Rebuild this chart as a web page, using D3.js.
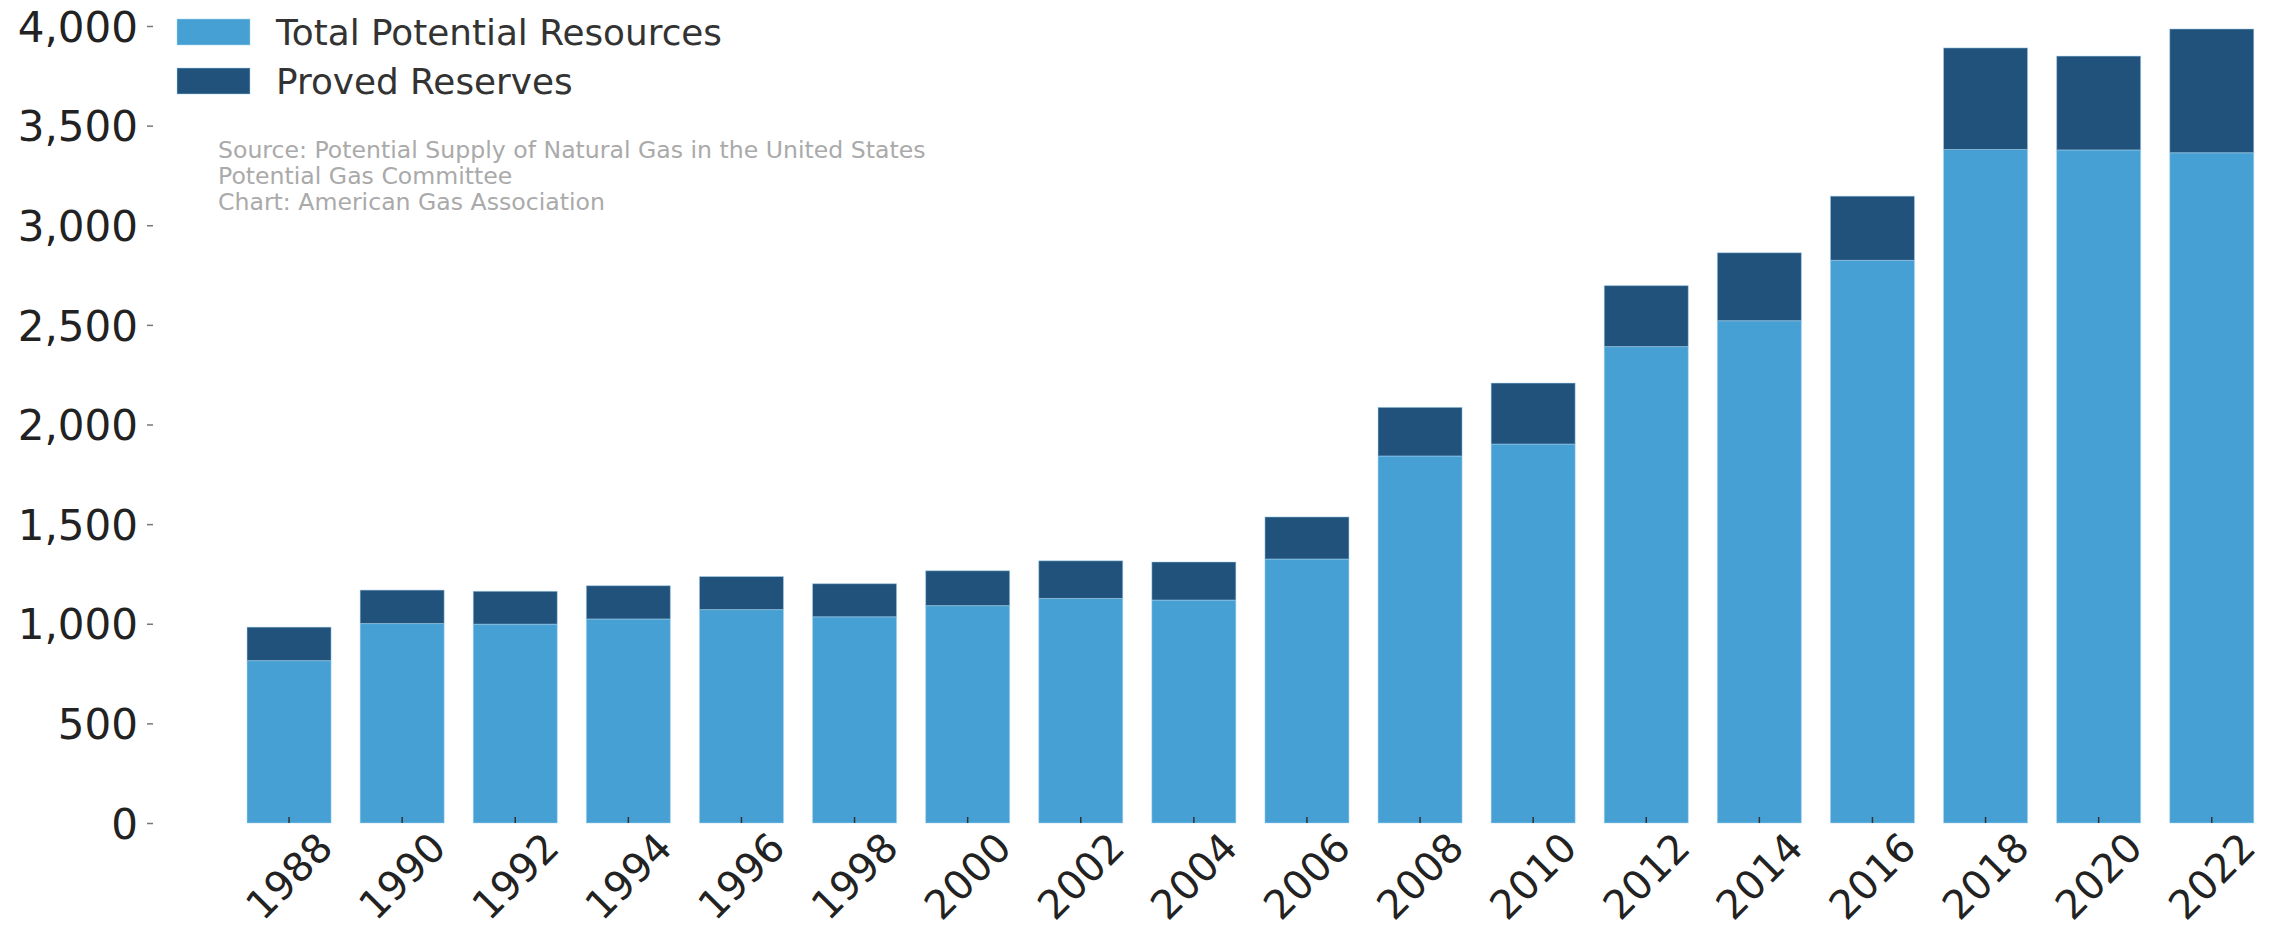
<!DOCTYPE html>
<html>
<head>
<meta charset="utf-8">
<script src="https://cdn.jsdelivr.net/npm/d3@7"></script>
<style>
  html, body { margin: 0; padding: 0; background: #fff; }
  svg { display: block; font-family: "DejaVu Sans", sans-serif; }
</style>
</head>
<body>
<svg id="chart" width="2277" height="929"></svg>
<script>
// values in Tcf
var years = ["1988","1990","1992","1994","1996","1998","2000","2002","2004",
             "2006","2008","2010","2012","2014","2016","2018","2020","2022"];
var totalPotential = [815, 1001, 998, 1024, 1071, 1035, 1091, 1127, 1119,
                      1325, 1842, 1902, 2391, 2521, 2824, 3380, 3378, 3364];
var provedReserves = [168, 168, 165, 167, 166, 166, 175, 189, 191,
                      211, 244, 306, 306, 341, 322, 510, 471, 621];
var yTicks = [0, 500, 1000, 1500, 2000, 2500, 3000, 3500, 4000];
var seriesNames = ["Total Potential Resources", "Proved Reserves"];
var sourceLines = ["Source: Potential Supply of Natural Gas in the United States",
                   "Potential Gas Committee",
                   "Chart: American Gas Association"];

var colors = ["#47a0d4", "#20527c"];

var svg = d3.select("#chart");

var x = d3.scaleBand()
  .domain(years)
  .range([232.5, 232.5 + 113.1 * years.length])
  .paddingInner(0.257)
  .paddingOuter(0.1285);

var y = d3.scaleLinear()
  .domain([0, 4000])
  .range([823, 26]);

var rows = years.map(function(yr, i) {
  return { year: yr, total: totalPotential[i], proved: provedReserves[i] };
});

var stack = d3.stack().keys(["total", "proved"]);
var layers = stack(rows);

// bars
svg.append("g").selectAll("g")
  .data(layers)
  .join("g")
    .attr("fill", function(d, i) { return colors[i]; })
  .selectAll("rect")
  .data(function(d) { return d; })
  .join("rect")
    .attr("x", function(d) { return x(d.data.year); })
    .attr("y", function(d) { return y(d[1]); })
    .attr("width", x.bandwidth())
    .attr("height", function(d) { return y(d[0]) - y(d[1]); })
    .attr("stroke", "#a9d6f0")
    .attr("stroke-opacity", 0.5)
    .attr("stroke-width", 1);

// y axis
var yAxis = svg.append("g")
  .attr("transform", "translate(147,0)")
  .call(d3.axisLeft(y).tickValues(yTicks).tickFormat(d3.format(",")).tickSize(-6).tickPadding(9));
yAxis.select(".domain").remove();
yAxis.selectAll(".tick line").attr("stroke", "#777").attr("stroke-width", 1.5);
yAxis.selectAll(".tick text")
  .attr("fill", "#222")
  .attr("font-size", 42)
  .attr("dy", "0.36em")
  .style("font-family", "DejaVu Sans");

// x axis
var xAxis = svg.append("g")
  .attr("transform", "translate(0,823)")
  .call(d3.axisBottom(x).tickSize(-6));
xAxis.select(".domain").remove();
xAxis.selectAll(".tick line").attr("stroke", "#333").attr("stroke-width", 1.5);
xAxis.selectAll(".tick text")
  .attr("y", null)
  .attr("dy", null)
  .attr("transform", "translate(0,53) rotate(-45)")
  .attr("text-anchor", "middle")
  .attr("dominant-baseline", "central")
  .attr("fill", "#222")
  .attr("font-size", 40)
  .style("font-family", "DejaVu Sans");

// legend
var legend = svg.append("g");
seriesNames.forEach(function(name, i) {
  var ly = 19 + i * 49;
  legend.append("rect")
    .attr("x", 177).attr("y", ly)
    .attr("width", 73).attr("height", 26)
    .attr("fill", colors[i])
    .attr("stroke", "#a9d6f0").attr("stroke-opacity", 0.5);
  legend.append("text")
    .attr("x", 276).attr("y", ly + 13)
    .attr("dominant-baseline", "central")
    .attr("font-size", 35.8)
    .attr("fill", "#333")
    .text(name);
});

// source note
svg.append("g").selectAll("text")
  .data(sourceLines)
  .join("text")
    .attr("x", 218)
    .attr("y", function(d, i) { return 150 + i * 26; })
    .attr("dominant-baseline", "central")
    .attr("font-size", 23.6)
    .attr("fill", "#aaa")
    .text(function(d) { return d; });
</script>
</body>
</html>
